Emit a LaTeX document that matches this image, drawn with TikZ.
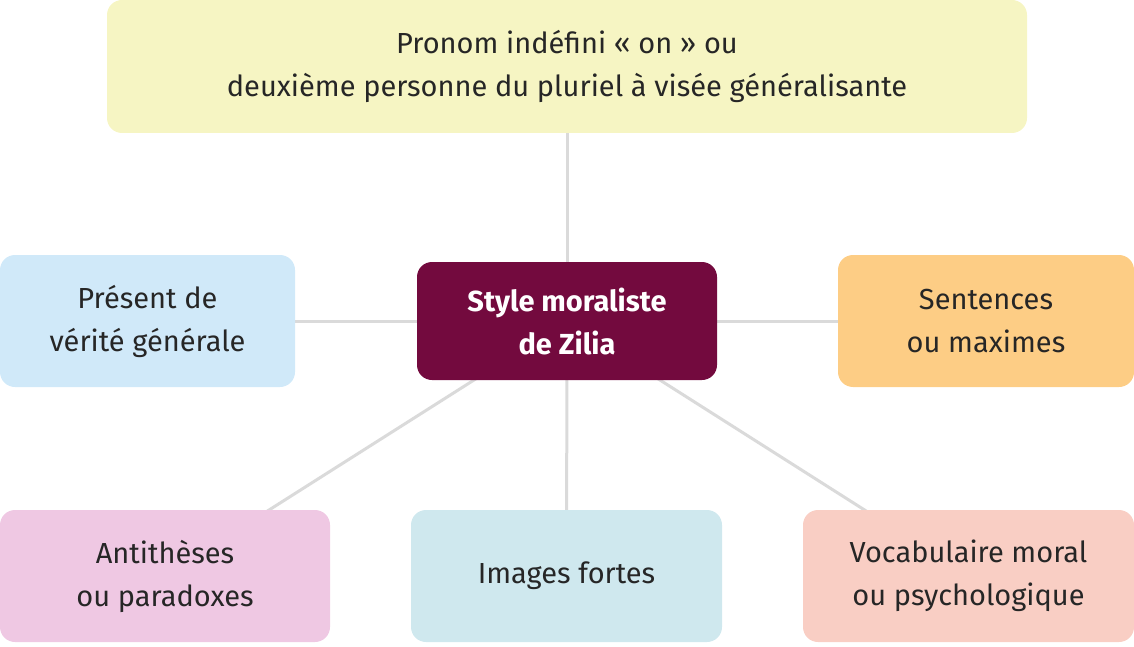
\documentclass[tikz,border=0pt]{standalone}
\usepackage{fontspec}
\setmainfont{Fira Sans}
\usetikzlibrary{backgrounds}
\definecolor{cTop}{HTML}{F6F5C3}
\definecolor{cMid}{HTML}{730A3E}
\definecolor{cL}{HTML}{D0E9F9}
\definecolor{cR}{HTML}{FDCD85}
\definecolor{cBL}{HTML}{EFC8E3}
\definecolor{cBM}{HTML}{CFE8EE}
\definecolor{cBR}{HTML}{F9CEC4}
\definecolor{cLine}{HTML}{DADADA}
\begin{document}
\begin{tikzpicture}[x=1pt,y=-1pt,
  boxstyle/.style={rounded corners=15pt,inner sep=0pt,align=center,text=black!85,
    font=\fontsize{29}{43}\selectfont},
  link/.style={draw=cLine,line width=3pt}]
\useasboundingbox (0,0) rectangle (1134,647);
\node[boxstyle,fill=cTop,minimum width=920pt,minimum height=133pt] (top) at (567,66.5)
  {Pronom indéfini « on » ou\\deuxième personne du pluriel à visée généralisante};
\node[boxstyle,fill=cMid,text=white,font=\fontsize{29}{43}\selectfont\bfseries,minimum width=300pt,minimum height=118pt] (mid) at (567,321) {Style moraliste\\de Zilia};
\node[boxstyle,fill=cL,minimum width=295pt,minimum height=132pt] (left) at (147.5,321) {Présent de\\vérité générale};
\node[boxstyle,fill=cR,minimum width=296pt,minimum height=132pt] (right) at (986,321) {Sentences\\ou maximes};
\node[boxstyle,fill=cBL,minimum width=330pt,minimum height=132pt] (bl) at (165,576) {Antithèses\\ou paradoxes};
\node[boxstyle,fill=cBM,minimum width=311pt,minimum height=132pt] (bm) at (566.5,576) {Images fortes};
\node[boxstyle,fill=cBR,minimum width=331pt,minimum height=132pt] (br) at (968.5,576) {Vocabulaire moral\\ou psychologique};
\begin{scope}[on background layer]
\draw[link] (mid.center) -- (top.center);
\draw[link] (mid.center) -- (left.center);
\draw[link] (mid.center) -- (right.center);
\draw[link] (mid.center) -- (bl.center);
\draw[link] (mid.center) -- (bm.center);
\draw[link] (mid.center) -- (br.center);
\end{scope}
\end{tikzpicture}
\end{document}
